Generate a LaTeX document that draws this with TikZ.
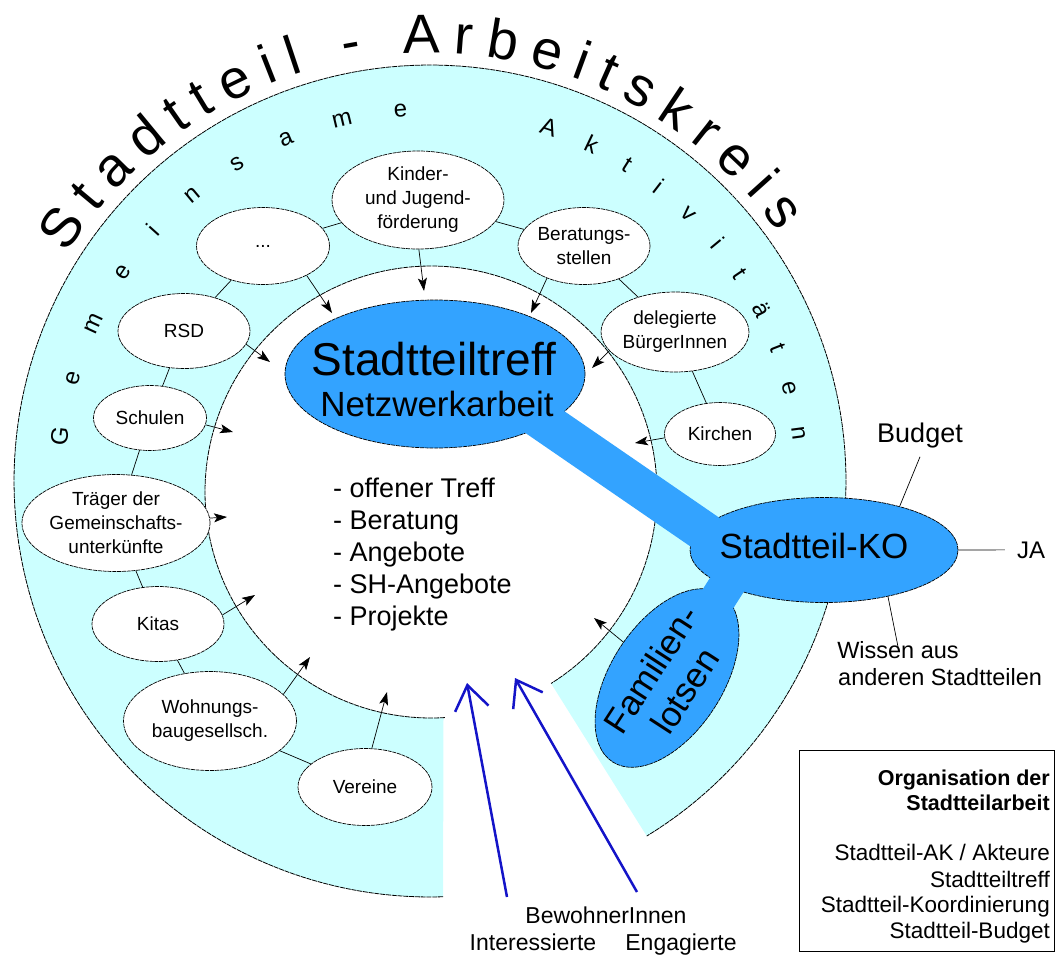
\documentclass[tikz,border=0pt]{standalone}
\usepackage{fontspec}
\setmainfont{Liberation Sans}
\usetikzlibrary{arrows.meta,shapes.geometric,decorations.text}
\definecolor{ringcyan}{RGB}{204,255,255}
\definecolor{treffblue}{RGB}{51,163,255}
\definecolor{arrowblue}{RGB}{20,20,200}
\begin{document}
\begin{tikzpicture}[x=1pt,y=-1pt,
  actor/.style={ellipse,draw,fill=white,line width=0.7pt,dash pattern=on 4pt off 0.8pt,inner sep=0pt,align=center,font=\fontsize{19}{24}\selectfont},
  bluebox/.style={ellipse,draw,fill=treffblue,line width=0.7pt,dash pattern=on 4pt off 0.8pt,inner sep=0pt},
  feed/.style={-{Stealth[length=13pt,width=9pt,inset=3pt]},line width=0.7pt},
  link/.style={line width=0.7pt},
  bandline/.style={line width=#1,draw=treffblue},
  resident/.style={-{Straight Barb[length=24pt,width=34pt]},line width=2.5pt,draw=arrowblue},
  ringline/.style={line width=0.8pt,dash pattern=on 5pt off 0.8pt},
  lbl/.style={inner sep=0pt}]
\useasboundingbox (0,0) rectangle (1057,954);
% ring
\fill[ringcyan] plot[domain=88.2:418.6,samples=200] ({430+416*cos(\x)},{481+416*sin(\x)})
  -- plot[domain=0:1,samples=200] ({431+226*cos(417.9-331.4*\x)},{492+226*sin(417.9-331.4*\x)}) -- cycle;
\draw[ringline] plot[domain=88.2:418.6,samples=200] ({430+416*cos(\x)},{481+416*sin(\x)});
\draw[ringline] plot[domain=86.5:417.9,samples=200] ({431+226*cos(\x)},{492+226*sin(\x)});
% ring texts
\path[decorate,decoration={text along path,text align=fit to path,
  text={|\fontsize{55}{55}\selectfont|Stadtteil - Arbeitskreis}}]
  plot[domain=212:324.5,samples=150] ({430+428*cos(\x)},{481+428*sin(\x)});
\path[decorate,decoration={text along path,text align=fit to path,
  text={|\fontsize{24}{24}\selectfont|Gemeinsame}}]
  plot[domain=185.5:266.5,samples=120] ({430+365*cos(\x)},{481+365*sin(\x)});
\path[decorate,decoration={text along path,text align=fit to path,
  text={|\fontsize{24}{24}\selectfont|Aktivitäten}}]
  plot[domain=287.3:353.6,samples=120] ({430+365*cos(\x)},{481+365*sin(\x)});
% actors
\node[actor,minimum width=133pt,minimum height=77pt] (dots) at (263,246) {...};
\node[actor,minimum width=172pt,minimum height=98pt] (kinder) at (418,200) {Kinder-\\und Jugend-\\förderung};
\node[actor,minimum width=132pt,minimum height=77pt] (ber) at (584,246) {Beratungs-\\stellen};
\node[actor,minimum width=133pt,minimum height=80pt] (del) at (675,332) {delegierte\\BürgerInnen};
\node[actor,minimum width=111pt,minimum height=63pt] (kirchen) at (720,434) {Kirchen};
\node[actor,minimum width=132pt,minimum height=75pt] (rsd) at (184,331) {RSD};
\node[actor,minimum width=113pt,minimum height=65pt] (schulen) at (150,418) {Schulen};
\node[actor,minimum width=172pt,minimum height=97pt] (traeger) at (116,523) {Träger der\\Gemeinschafts-\\unterkünfte};
\node[actor,minimum width=132pt,minimum height=75pt] (kitas) at (158,624) {Kitas};
\node[actor,minimum width=173pt,minimum height=99pt] (wohn) at (210,721) {Wohnungs-\\baugesellsch.};
\node[actor,minimum width=134pt,minimum height=77pt] (vereine) at (365,787) {Vereine};
\foreach \a/\b in {dots/kinder,kinder/ber,ber/del,del/kirchen,dots/rsd,rsd/schulen,schulen/traeger,traeger/kitas,kitas/wohn,wohn/vereine}
  \draw[link] (\a) -- (\b);
% arrow tips
\coordinate (tDots) at (332,313);
\coordinate (tKinder) at (424,291);
\coordinate (tBer) at (531,313);
\coordinate (tDel) at (592,368);
\coordinate (tKirchen) at (635,443);
\coordinate (tRsd) at (270,362);
\coordinate (tSchulen) at (233,432);
\coordinate (tTraeger) at (227,517);
\coordinate (tKitas) at (255,595);
\coordinate (tWohn) at (310,657);
\coordinate (tVereine) at (387,692);
\coordinate (tFam) at (594,618);
\draw[feed] (dots.-34) -- (tDots);
\draw[feed] (kinder.-89) -- (tKinder);
\draw[feed] (ber.-139) -- (tBer);
\draw[feed] (del.-164) -- (tDel);
\draw[feed] (kirchen.-176) -- (tKirchen);
\draw[feed] (rsd.-12) -- (tRsd);
\draw[feed] (schulen.-7) -- (tSchulen);
\draw[feed] (traeger.3) -- (tTraeger);
\draw[feed] (kitas.8) -- (tKitas);
\draw[feed] (wohn.20) -- (tWohn);
\draw[feed] (vereine.80) -- (tVereine);
% inner list
\foreach \t [count=\i] in {- offener Treff,- Beratung,- Angebote,- SH-Angebote,- Projekte}
  \node[lbl,anchor=base west,font=\fontsize{27}{27}\selectfont] (list\i) at (333,{497+32*(\i-1)}) {\t};
% blue shapes
\node[bluebox,minimum width=300pt,minimum height=148pt] (treff) at (435,374) {};
\node[bluebox,minimum width=268pt,minimum height=105pt] (ko) at (824,550) {};
\node[bluebox,minimum width=200pt,minimum height=112pt,rotate=57] (fam) at (667,678) {};
\coordinate (b1) at (520,405);
\coordinate (b2) at (760,570);
\coordinate (f1) at (735,572);
\coordinate (f2) at (695,635);
\draw[bandline=40pt] (b1) -- (b2);
\draw[bandline=36pt] (f1) -- (f2);
\draw[feed] (fam) -- (tFam);
\node[lbl,anchor=base,font=\fontsize{46}{46}\selectfont] (trefftext) at (434,375) {Stadtteiltreff};
\node[lbl,anchor=base,font=\fontsize{35}{35}\selectfont] (netztext) at (437,416) {Netzwerkarbeit};
\node[lbl,anchor=base,font=\fontsize{35}{35}\selectfont] (kotext) at (814,558) {Stadtteil-KO};
\node[lbl,rotate=57,align=center,font=\fontsize{35}{40}\selectfont] (famtext) at (668,680) {Familien-\\lotsen};
% KO labels
\node[anchor=base,inner sep=9pt,font=\fontsize{27}{27}\selectfont] (budget) at (920,442) {Budget};
\node[anchor=base,inner sep=12pt,font=\fontsize{24}{24}\selectfont] (ja) at (1031,558) {JA};
\node[anchor=base,inner sep=0pt,font=\fontsize{23.5}{23.5}\selectfont] (wissen1) at (898,658) {Wissen aus};
\node[anchor=base west,inner sep=0pt,font=\fontsize{23.5}{23.5}\selectfont] (wissen2) at (838,685) {anderen Stadtteilen};
\draw[link] (ko.30) -- (budget.south);
\draw[link] (ko.east) -- (ja.west);
\draw[link] (ko.-36) -- ([yshift=-6pt]wissen1.north);
% residents
\node[lbl,anchor=base,font=\fontsize{23}{23}\selectfont] (bewohner) at (606,923) {BewohnerInnen};
\node[lbl,anchor=base,font=\fontsize{23}{23}\selectfont] (interessierte) at (533,950) {Interessierte};
\node[lbl,anchor=base,font=\fontsize{23}{23}\selectfont] (engagierte) at (681,950) {Engagierte};
\coordinate (r1s) at (507,897);
\coordinate (r1t) at (467,683);
\coordinate (r2s) at (637,892);
\coordinate (r2t) at (515,678);
\draw[resident] (r1s) -- (r1t);
\draw[resident] (r2s) -- (r2t);
% legend
\node[draw,line width=1.1pt,minimum width=255pt,minimum height=201pt,anchor=north west,inner sep=0pt] (legend) at (799,750) {};
\node[lbl,anchor=base east,font=\fontsize{21.5}{21.5}\bfseries] (lg1) at (1050,785) {Organisation der};
\node[lbl,anchor=base east,font=\fontsize{21.5}{21.5}\bfseries] (lg2) at (1050,810) {Stadtteilarbeit};
\node[lbl,anchor=base east,font=\fontsize{22.5}{22.5}\selectfont] (lg3) at (1050,860) {Stadtteil-AK / Akteure};
\node[lbl,anchor=base east,font=\fontsize{22.5}{22.5}\selectfont] (lg4) at (1050,887) {Stadtteiltreff};
\node[lbl,anchor=base east,font=\fontsize{22.5}{22.5}\selectfont] (lg5) at (1050,912) {Stadtteil-Koordinierung};
\node[lbl,anchor=base east,font=\fontsize{22.5}{22.5}\selectfont] (lg6) at (1050,938) {Stadtteil-Budget};
\end{tikzpicture}
\end{document}
